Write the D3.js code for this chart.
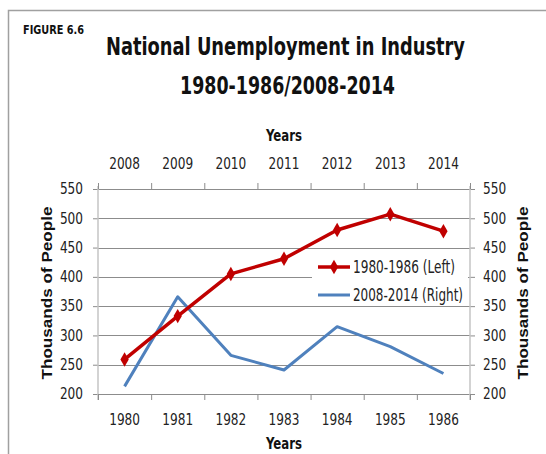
<!DOCTYPE html>
<html>
<head>
<meta charset="utf-8">
<script src="https://cdn.jsdelivr.net/npm/d3@7"></script>
<style>
  body { margin: 0; background: #fff; }
  svg { display: block; }
  .narrow { font-family: "Liberation Sans Narrow", "DejaVu Sans Condensed", sans-serif; }
</style>
</head>
<body>
<div id="chart"></div>
<script>
// chart data
var yearsLeft = ['1980', '1981', '1982', '1983', '1984', '1985', '1986'];
var yearsRight = ['2008', '2009', '2010', '2011', '2012', '2013', '2014'];
var valuesLeft = [259, 333, 405, 431, 480, 507, 478];
var valuesRight = [213, 366, 266, 241, 315, 281, 235];
var yTicks = [200, 250, 300, 350, 400, 450, 500, 550];

var W = 546, H = 454;
var plot = { left: 98, right: 470, top: 189, bottom: 394 };

var svg = d3.select('#chart').append('svg')
    .attr('width', W)
    .attr('height', H);

// frame (top + left edge only)
svg.append('path')
    .attr('d', 'M8.5,' + H + 'V10.5H' + W)
    .attr('fill', 'none')
    .attr('stroke', '#a0a0a0')
    .attr('stroke-width', 1.5);

var x = d3.scaleBand().domain(d3.range(7)).range([plot.left, plot.right]).padding(0);
var xEdge = d3.scaleLinear().domain([0, 7]).range([plot.left, plot.right]);
var y = d3.scaleLinear().domain([200, 550]).range([plot.bottom, plot.top]);

// gridlines
svg.append('g')
    .selectAll('line')
    .data(yTicks)
    .join('line')
    .attr('x1', plot.left)
    .attr('x2', plot.right)
    .attr('y1', d => Math.round(y(d)) + 0.5)
    .attr('y2', d => Math.round(y(d)) + 0.5)
    .attr('stroke', '#8c8c8c')
    .attr('stroke-width', 1);

// squeeze the wide fallback font to the narrow widths of the reference
function styleAxis(g) {
    g.selectAll('.tick line').attr('stroke', '#8c8c8c');
    g.selectAll('text')
        .attr('class', 'narrow')
        .attr('font-size', 15)
        .attr('fill', '#222')
        .attr('textLength', function () { return this.textContent.length * 7.7; })
        .attr('lengthAdjust', 'spacingAndGlyphs');
}

// left value axis
svg.append('g')
    .attr('transform', 'translate(' + plot.left + ',0)')
    .call(d3.axisLeft(y).tickValues(yTicks).tickSize(5).tickPadding(10))
    .call(styleAxis)
    .call(g => g.select('.domain').remove());

// right value axis
svg.append('g')
    .attr('transform', 'translate(' + plot.right + ',0)')
    .call(d3.axisRight(y).tickValues(yTicks).tickSize(5).tickPadding(8))
    .call(styleAxis)
    .call(g => g.select('.domain').remove());

// vertical axis lines
svg.append('g')
    .selectAll('line')
    .data([plot.left, plot.right])
    .join('line')
    .attr('x1', d => d).attr('x2', d => d)
    .attr('y1', plot.top - 3).attr('y2', plot.bottom + 6)
    .attr('stroke', '#c4c4c4')
    .attr('stroke-width', 1.5);

// bottom category axis: boundary ticks + labels
svg.append('g')
    .attr('transform', 'translate(0,' + plot.bottom + ')')
    .call(d3.axisBottom(xEdge).ticks(7).tickSize(6).tickFormat(''))
    .call(g => g.select('.domain').remove())
    .call(g => g.selectAll('.tick line').attr('stroke', '#8c8c8c'));
svg.append('g')
    .attr('transform', 'translate(0,' + plot.bottom + ')')
    .call(d3.axisBottom(x).tickSize(0).tickPadding(20).tickFormat(i => yearsLeft[i]))
    .call(styleAxis)
    .call(g => g.select('.domain').remove());

// top category axis
svg.append('g')
    .attr('transform', 'translate(0,' + plot.top + ')')
    .call(d3.axisTop(xEdge).ticks(7).tickSize(6).tickFormat(''))
    .call(g => g.select('.domain').remove())
    .call(g => g.selectAll('.tick line').attr('stroke', '#8c8c8c'));
svg.append('g')
    .attr('transform', 'translate(0,' + plot.top + ')')
    .call(d3.axisTop(x).tickSize(0).tickPadding(20).tickFormat(i => yearsRight[i]))
    .call(styleAxis)
    .call(g => g.select('.domain').remove());

var cx = i => x(i) + x.bandwidth() / 2;

// 2008-2014 series (right)
svg.append('path')
    .datum(valuesRight)
    .attr('fill', 'none')
    .attr('stroke', '#4f81bd')
    .attr('stroke-width', 3)
    .attr('stroke-linejoin', 'round')
    .attr('d', d3.line().x((d, i) => cx(i)).y(d => y(d)));

// 1980-1986 series (left)
svg.append('path')
    .datum(valuesLeft)
    .attr('fill', 'none')
    .attr('stroke', '#c00000')
    .attr('stroke-width', 3.5)
    .attr('stroke-linejoin', 'round')
    .attr('d', d3.line().x((d, i) => cx(i)).y(d => y(d)));

var diamond = d3.symbol().type(d3.symbolDiamond).size(60);
svg.append('g')
    .selectAll('path')
    .data(valuesLeft)
    .join('path')
    .attr('d', diamond)
    .attr('transform', (d, i) => 'translate(' + cx(i) + ',' + y(d) + ')')
    .attr('fill', '#c00000');

// legend
var legend = svg.append('g');
legend.append('rect')
    .attr('x', 312).attr('y', 255).attr('width', 156).attr('height', 50)
    .attr('fill', '#fff');
legend.append('line')
    .attr('x1', 318).attr('x2', 350).attr('y1', 267).attr('y2', 267)
    .attr('stroke', '#c00000').attr('stroke-width', 3.5);
legend.append('path')
    .attr('d', diamond)
    .attr('transform', 'translate(334,267)')
    .attr('fill', '#c00000');
legend.append('text')
    .attr('class', 'narrow')
    .attr('x', 353).attr('y', 273)
    .attr('font-size', 17).attr('fill', '#222')
    .attr('textLength', 102).attr('lengthAdjust', 'spacingAndGlyphs')
    .text('1980-1986 (Left)');
legend.append('line')
    .attr('x1', 318).attr('x2', 350).attr('y1', 295).attr('y2', 295)
    .attr('stroke', '#4f81bd').attr('stroke-width', 3);
legend.append('text')
    .attr('class', 'narrow')
    .attr('x', 353).attr('y', 301)
    .attr('font-size', 17).attr('fill', '#222')
    .attr('textLength', 110).attr('lengthAdjust', 'spacingAndGlyphs')
    .text('2008-2014 (Right)');

// titles
svg.append('text')
    .attr('class', 'narrow')
    .attr('x', 23).attr('y', 34)
    .attr('font-size', 13).attr('font-weight', 'bold').attr('fill', '#111')
    .attr('textLength', 61).attr('lengthAdjust', 'spacingAndGlyphs')
    .text('FIGURE 6.6');
svg.append('text')
    .attr('class', 'narrow')
    .attr('x', 106).attr('y', 55)
    .attr('font-size', 25).attr('font-weight', 'bold').attr('fill', '#111')
    .attr('textLength', 359).attr('lengthAdjust', 'spacingAndGlyphs')
    .text('National Unemployment in Industry');
svg.append('text')
    .attr('class', 'narrow')
    .attr('x', 180).attr('y', 94)
    .attr('font-size', 25).attr('font-weight', 'bold').attr('fill', '#111')
    .attr('textLength', 215).attr('lengthAdjust', 'spacingAndGlyphs')
    .text('1980-1986/2008-2014');

// axis titles
svg.append('text')
    .attr('class', 'narrow')
    .attr('x', 284).attr('y', 141)
    .attr('text-anchor', 'middle')
    .attr('font-size', 16).attr('font-weight', 'bold').attr('fill', '#111')
    .attr('textLength', 36).attr('lengthAdjust', 'spacingAndGlyphs')
    .text('Years');
svg.append('text')
    .attr('class', 'narrow')
    .attr('x', 284).attr('y', 449)
    .attr('text-anchor', 'middle')
    .attr('font-size', 16).attr('font-weight', 'bold').attr('fill', '#111')
    .attr('textLength', 36).attr('lengthAdjust', 'spacingAndGlyphs')
    .text('Years');

[{ x: 52, label: 'Thousands  of People' }, { x: 528, label: 'Thousands  of People' }].forEach(function (a) {
    svg.append('text')
        .attr('transform', 'translate(' + a.x + ',293) rotate(-90)')
        .attr('text-anchor', 'middle')
        .attr('font-family', '"Liberation Sans", Arial, sans-serif')
        .attr('font-size', 15).attr('font-weight', 'bold').attr('fill', '#111')
        .attr('textLength', 173).attr('lengthAdjust', 'spacingAndGlyphs')
        .text(a.label);
});
</script>
</body>
</html>
